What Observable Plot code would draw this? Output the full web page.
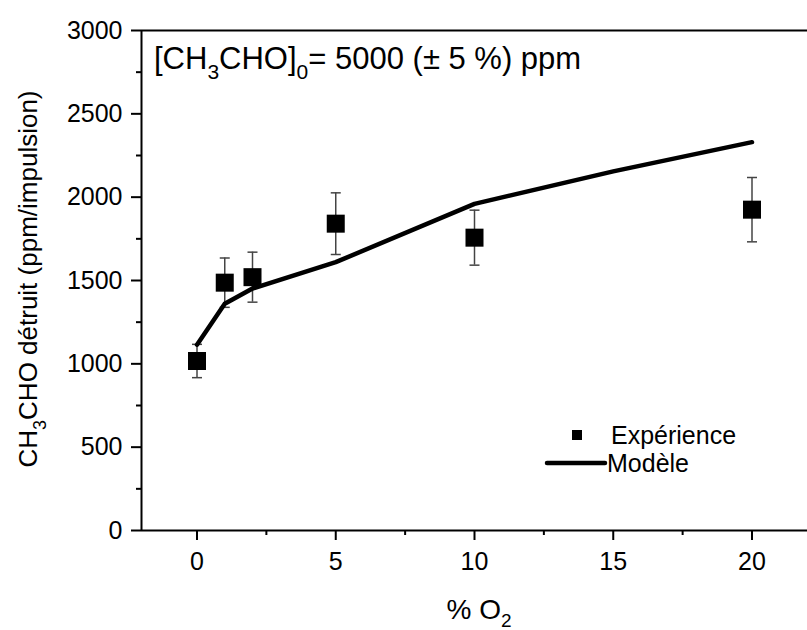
<!DOCTYPE html>
<html><head><meta charset="utf-8">
<script src="https://cdn.jsdelivr.net/npm/d3@7"></script>
<script src="https://cdn.jsdelivr.net/npm/@observablehq/plot@0.6"></script>
<style>body{margin:0;background:#fff;} svg{display:block;}</style>
</head><body><div id="chart"></div>
<script>
const expX = [0, 1, 2, 5, 10, 20];
const expY = [1017, 1487, 1520, 1841, 1757, 1925];
const expErr = [100, 148, 150, 185, 165, 193];
const modX = [0, 1, 2, 5, 10, 15, 20];
const modY = [1115, 1360, 1452, 1610, 1960, 2155, 2330];
const xTicks = [0, 5, 10, 15, 20];
const xMinor = [2.5, 7.5, 12.5, 17.5];
const yTicks = [0, 500, 1000, 1500, 2000, 2500, 3000];
const yMinor = [250, 750, 1250, 1750, 2250, 2750];
const expLabel = "Expérience";
const modLabel = "Modèle";

const exp = expX.map((x, i) => ({x, y: expY[i], err: expErr[i]}));
const mod = modX.map((x, i) => ({x, y: modY[i]}));

const FONT = "'Liberation Sans', Arial, sans-serif";
const capSymbol = {draw(ctx, size) { ctx.moveTo(-5, 0); ctx.lineTo(5, 0); }};

const plot = Plot.plot({
  width: 807, height: 630,
  marginLeft: 141, marginRight: 0, marginTop: 30, marginBottom: 100,
  style: {fontFamily: FONT, fontSize: "24px", color: "black", background: "white"},
  x: {domain: [-2, 22], label: null},
  y: {domain: [0, 3000], label: null},
  marks: [
    Plot.axisX({ticks: xTicks, tickSize: 10, tickPadding: 12, strokeWidth: 2, tickFormat: d => String(d), label: null, fontSize: 25}),
    Plot.axisX({ticks: xMinor, tickSize: 5, strokeWidth: 2, text: null, label: null}),
    Plot.axisY({ticks: yTicks, tickSize: 10, tickPadding: 9, strokeWidth: 2, tickFormat: d => String(d), label: null, fontSize: 25}),
    Plot.axisY({ticks: yMinor, tickSize: 5, strokeWidth: 2, text: null, label: null}),
    Plot.ruleY([0, 3000], {stroke: "black", strokeWidth: 2}),
    Plot.ruleX([-2], {stroke: "black", strokeWidth: 2}),
    Plot.ruleX(exp, {x: "x", y1: d => d.y - d.err, y2: d => d.y + d.err, stroke: "#444", strokeWidth: 1.5}),
    Plot.dot(exp, {x: "x", y: d => d.y + d.err, symbol: capSymbol, stroke: "#444", strokeWidth: 1.5, fill: "none"}),
    Plot.dot(exp, {x: "x", y: d => d.y - d.err, symbol: capSymbol, stroke: "#444", strokeWidth: 1.5, fill: "none"}),
    Plot.line(mod, {x: "x", y: "y", stroke: "black", strokeWidth: 4.5, strokeLinecap: "round", strokeLinejoin: "round"}),
    Plot.dot(exp, {x: "x", y: "y", symbol: "square", r: 10.16, fill: "black", stroke: null})
  ]
});
document.getElementById("chart").appendChild(plot);

const svg = d3.select(plot);
const g = svg.append("g").attr("font-family", FONT).attr("fill", "black").attr("text-anchor", "start");

// annotation
const ann = g.append("text").attr("x", 154).attr("y", 69).attr("font-size", 31).attr("text-anchor", "start");
ann.append("tspan").text("[CH");
ann.append("tspan").attr("font-size", 21).attr("dy", 10).text("3");
ann.append("tspan").attr("dy", -10).text("CHO]");
ann.append("tspan").attr("font-size", 21).attr("dy", 10).text("0");
ann.append("tspan").attr("dy", -10).text("= 5000 (± 5 %) ppm");

// y title
const yt = g.append("text").attr("transform", "translate(37,279) rotate(-90)")
  .attr("text-anchor", "middle").attr("font-size", 26);
yt.append("tspan").text("CH");
yt.append("tspan").attr("font-size", 18).attr("dy", 9).text("3");
yt.append("tspan").attr("dy", -9).text("CHO détruit (ppm/impulsion)");

// x title
const xt = g.append("text").attr("x", 479).attr("y", 619).attr("text-anchor", "middle").attr("font-size", 28);
xt.append("tspan").text("% O");
xt.append("tspan").attr("font-size", 19).attr("dy", 8).text("2");

// legend
g.append("rect").attr("x", 572).attr("y", 430).attr("width", 10).attr("height", 10).attr("fill", "black");
g.append("text").attr("x", 611).attr("y", 444).attr("font-size", 25).attr("text-anchor", "start").text(expLabel);
g.append("line").attr("x1", 547).attr("x2", 605).attr("y1", 463).attr("y2", 463)
  .attr("stroke", "black").attr("stroke-width", 4.5).attr("stroke-linecap", "round");
g.append("text").attr("x", 607).attr("y", 472).attr("font-size", 25).attr("text-anchor", "start").text(modLabel);
</script>
</body></html>
